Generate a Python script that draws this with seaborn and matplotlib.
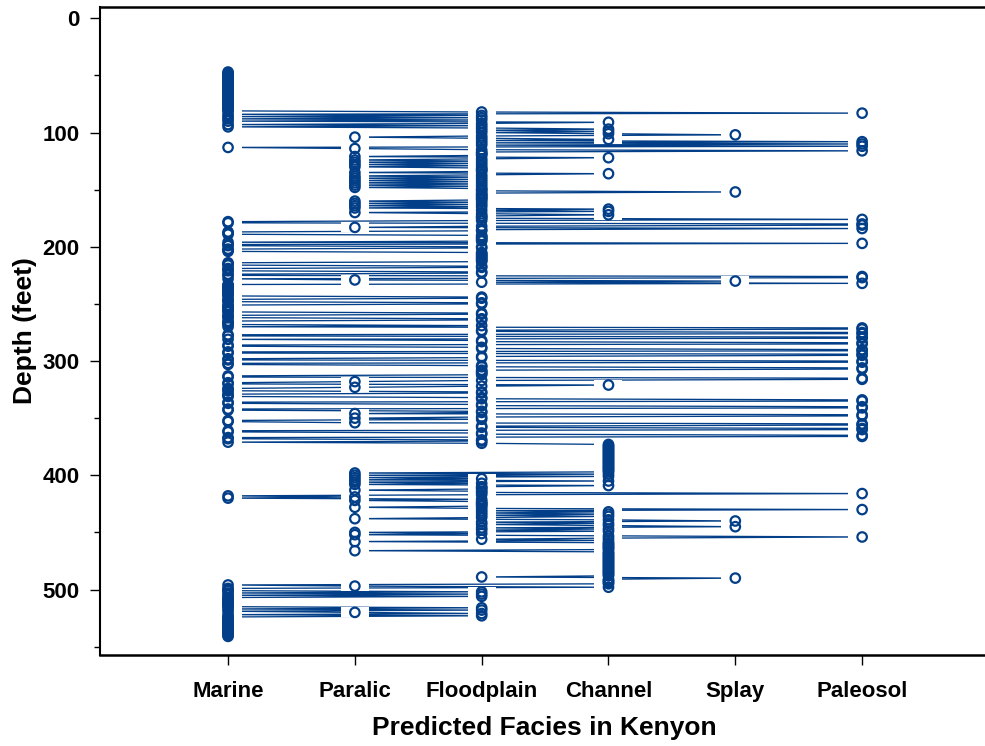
import numpy as np
import pandas as pd
import matplotlib
matplotlib.use("Agg")
import matplotlib.pyplot as plt
from matplotlib.path import Path
from matplotlib.ticker import MultipleLocator
import seaborn as sns

# Facies classes in column order, with the one-letter keys used in the log below
facies_names = ["Marine", "Paralic", "Floodplain", "Channel", "Splay", "Paleosol"]
facies_keys = ["M", "P", "F", "C", "S", "L"]

# Predicted facies log, one sample per foot; each zone starts at its top depth (ft)
zone_top = [47, 82, 97, 117, 176, 236, 311, 373, 411, 461]
zone_codes = [
    "MMMMMMMMMMMMMMMMMMMMMMMMMMMMMMMMMMM",
    "FLMFMFMFMCFMFMF",
    "CFCFCSFPFCFLFLFLMPFL",
    "FFFF" "PCFPFPFPFP" "FFFF" "PCFPFPFPFPFPFP" "FFF" "S" "FFFFFFF"
    "PFPFPFPCFCPFC" "FFF",
    "LFMMLLFPLFFMMM" "FFFFFF" "MLMMFFMMMFF" "FFFFFFF" "MMMFFMMMFFMM"
    "LLMPSFLMMM",
    "MMMMMMMMFFMMMFFM" "MMMMMM" "FFMMMFFMMMMFM" "LLFFLLMMLLMFFLLMMFFLL"
    "MMLLFFMMLLMMFFLLFFF",
    "FFMMLLFPMM" "CFPMMMFFMM" "MFFLLMMFFL" "LMMFFPLLFP" "FMMPLLFFLL"
    "MMFFLLMMFF" "MF",
    "CCCCCCCCCCCCCCCCCCCCCCCCC" "PCPCPFPCPFPCF",
    "FFPFFLFMPM" "FPFFFFFPFL" "FCFCFCFPCS" "FCFCSFCFCP" "FPCLCFCPCC",
    "CCCCC" "P" "CCCCCCCCCCCCCCCCCCCCCC" "F" "S" "CCCCC" "M" "P" "C" "MMM"
    "F" "M" "F" "M" "F" "MMMMMMMMM" "F" "M" "F" "M" "P" "F" "M" "F" "M"
    "MMMMMMMMMMMMMMMMM",
]

depth_ticks = [0, 100, 200, 300, 400, 500]

blue = "#033f88"

rows = []
for top, codes in zip(zone_top, zone_codes):
    for i, ch in enumerate(codes):
        rows.append((top + i, facies_keys.index(ch)))
log = pd.DataFrame(rows, columns=["depth", "facies"]).sort_values("depth", kind="stable")

sns.set_style("ticks")
plt.rcParams["font.family"] = ["Liberation Sans", "DejaVu Sans"]
plt.rcParams["text.color"] = "black"
plt.rcParams["axes.labelcolor"] = "black"
plt.rcParams["xtick.color"] = "black"
plt.rcParams["ytick.color"] = "black"

fig = plt.figure(figsize=(9.85, 7.46), dpi=100)
ax = fig.add_axes([0.1015, 0.122, 0.9025, 0.8686])

# path connecting successive samples down the well
sns.lineplot(data=log, x="facies", y="depth", sort=False, estimator=None,
             color=blue, linewidth=0.95, ax=ax, zorder=1, legend=False)

# white knock-out behind each sample so the connecting lines stop short of it
knockout = Path([(-1, -0.36), (1, -0.36), (1, 0.36), (-1, 0.36), (-1, -0.36)],
                [Path.MOVETO, Path.LINETO, Path.LINETO, Path.LINETO, Path.CLOSEPOLY])
sns.scatterplot(data=log, x="facies", y="depth", marker=knockout, s=20.5 ** 2,
                color="white", linewidth=0, ax=ax, zorder=2, legend=False)

# open circle per sample; stacked circles merge into solid bars
sns.scatterplot(data=log, x="facies", y="depth", marker="o", s=6.8 ** 2,
                ax=ax, zorder=3, legend=False)
pts = ax.collections[-1]
pts.set_facecolor("none")
pts.set_edgecolor(blue)
pts.set_linewidth(1.6)

ax.set_xlim(-1.01, 6.0)
ax.set_ylim(557.3, -9.9)
ax.set_xticks(range(len(facies_names)))
ax.set_xticklabels(facies_names)
ax.set_yticks(depth_ticks)
ax.yaxis.set_minor_locator(MultipleLocator(50))

for side in ["top", "bottom", "left", "right"]:
    ax.spines[side].set_visible(True)
    ax.spines[side].set_color("black")
ax.spines["top"].set_linewidth(1.8)
ax.spines["bottom"].set_linewidth(1.8)
ax.spines["left"].set_linewidth(1.5)

ax.tick_params(axis="both", which="major", length=7.5, width=1.0, color="black",
               labelsize=16, labelcolor="black")
ax.tick_params(axis="x", which="major", pad=11)
ax.tick_params(axis="y", which="major", pad=7)
ax.tick_params(axis="y", which="minor", length=4, width=1.0, color="black")
ax.tick_params(axis="x", top=False)
for lab in ax.get_xticklabels() + ax.get_yticklabels():
    lab.set_fontweight("bold")

ax.set_xlabel("Predicted Facies in Kenyon", fontsize=19, fontweight="bold", labelpad=10)
ax.set_ylabel("Depth (feet)", fontsize=19, fontweight="bold", labelpad=4)
ax.grid(False)

fig.savefig("out.png", dpi=100, facecolor="white")
